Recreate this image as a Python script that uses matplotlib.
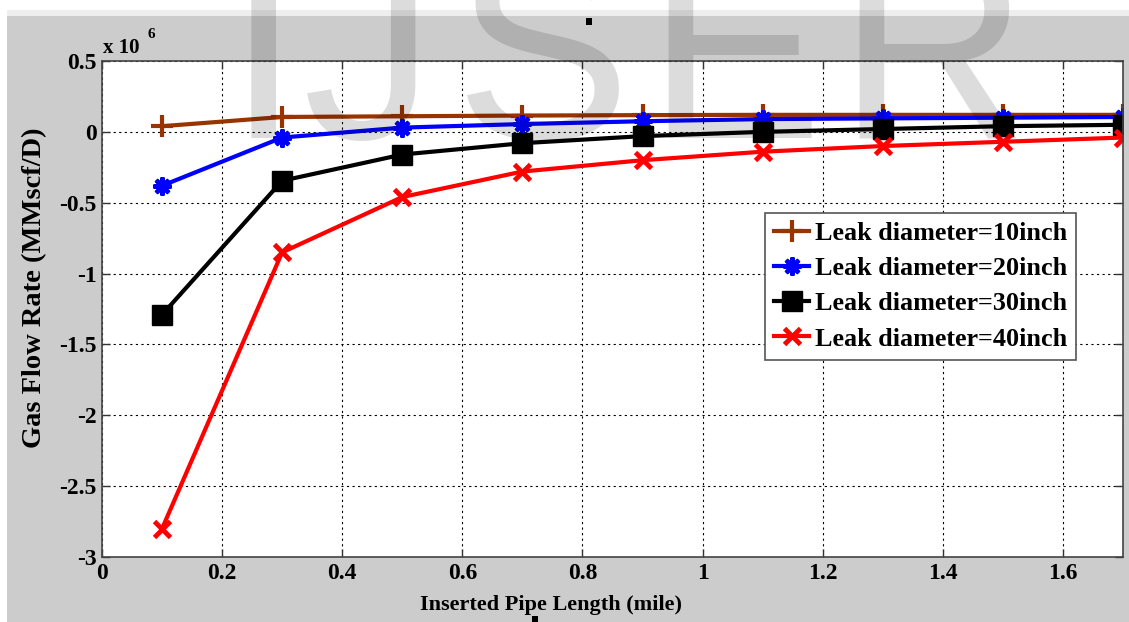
import matplotlib
matplotlib.use('Agg')
import matplotlib.pyplot as plt
from matplotlib.patches import Rectangle

# inserted pipe length (mile)
length = [0.1, 0.3, 0.5, 0.7, 0.9, 1.1, 1.3, 1.5, 1.7]

# gas flow rate, x 10^6 MMscf/D
flow_10 = [0.04, 0.105, 0.11, 0.115, 0.118, 0.12, 0.12, 0.12, 0.12]
flow_20 = [-0.38, -0.04, 0.03, 0.055, 0.075, 0.09, 0.095, 0.1, 0.105]
flow_30 = [-1.29, -0.345, -0.16, -0.08, -0.03, 0.0, 0.02, 0.04, 0.05]
flow_40 = [-2.8, -0.85, -0.46, -0.28, -0.2, -0.14, -0.10, -0.07, -0.04]

labels = ['Leak diameter=10inch', 'Leak diameter=20inch',
          'Leak diameter=30inch', 'Leak diameter=40inch']

xticks = [0, 0.2, 0.4, 0.6, 0.8, 1.0, 1.2, 1.4, 1.6]
xticklabels = ['0', '0.2', '0.4', '0.6', '0.8', '1', '1.2', '1.4', '1.6']
yticks = [-3, -2.5, -2, -1.5, -1, -0.5, 0, 0.5]
yticklabels = ['-3', '-2.5', '-2', '-1.5', '-1', '-0.5', '0', '0.5']

plt.rcParams['font.family'] = ['Liberation Serif', 'DejaVu Serif']
plt.rcParams['font.weight'] = 'bold'

W, H = 1129, 622
fig = plt.figure(figsize=(W / 100, H / 100), dpi=100, facecolor='#cccccc')

# white strip at top / left, like the screenshot border
def fig_rect(x, y, w, h, color):
    # pixel box from top-left
    fig.patches.append(Rectangle((x / W, 1 - (y + h) / H), w / W, h / H,
                                 transform=fig.transFigure, facecolor=color,
                                 edgecolor='none', zorder=0))

fig_rect(0, 0, W, 10, 'white')
fig_rect(7, 10, W, 6, '#eeeeee')
fig_rect(0, 0, 7, H, 'white')
fig_rect(586, 18, 6, 7, 'black')
fig_rect(532, 616, 6, 6, 'black')

ax = fig.add_axes([102 / W, 1 - 557 / H, (1123 - 102) / W, (557 - 61) / H])
ax.set_facecolor('white')

ax.plot(length, flow_10, color='#993300', lw=3, marker='+', ms=16, mew=3, label=labels[0])
ax.plot(length, flow_20, color='#0000ff', lw=3, marker=(8, 2, 0), ms=13, mew=3, label=labels[1])
ax.plot(length, flow_30, color='black', lw=3, marker='s', ms=14, label=labels[2])
ax.plot(length, flow_40, color='#ff0000', lw=3, marker='x', ms=11, mew=3.5, label=labels[3])

ax.set_xlim(0, 1.7)
ax.set_ylim(-3, 0.5)
ax.set_xticks(xticks)
ax.set_xticklabels(xticklabels)
ax.set_yticks(yticks)
ax.set_yticklabels(yticklabels)
ax.tick_params(direction='in', top=True, right=True, length=6, width=1,
               labelsize=17, colors='#333333', labelcolor='black', pad=4)
for lab in ax.get_xticklabels() + ax.get_yticklabels():
    lab.set_fontweight('bold')
ax.grid(True, color='black', linestyle=(0, (2, 3)), linewidth=0.8)
for sp in ax.spines.values():
    sp.set_color('#444444')
    sp.set_linewidth(1.2)

leg = ax.legend(loc='upper left', bbox_to_anchor=((765 - 102) / (1123 - 102), (557 - 213) / (557 - 61)),
                prop={'weight': 'bold', 'size': 18.8}, frameon=True, fancybox=False,
                framealpha=1, edgecolor='#555555', handlelength=1.35, handletextpad=0.2,
                labelspacing=0.45, borderpad=0.35, borderaxespad=0)
leg.get_frame().set_linewidth(1.2)

fig.text(35 / W, 1 - 288 / H, 'Gas Flow Rate (MMscf/D)', rotation=90, ha='center',
         va='center', fontsize=20.5, fontweight='bold')
fig.text(551 / W, 1 - 605 / H, 'Inserted Pipe Length (mile)', ha='center', va='center',
         fontsize=16, fontweight='bold')
fig.text(103 / W, 1 - 53 / H, 'x 10', ha='left', va='baseline', fontsize=15, fontweight='bold')
fig.text(147 / W, 1 - 38 / H, '6', ha='left', va='baseline', fontsize=11, fontweight='bold')

# IJSER watermark
for letter, xc in zip('IJSER', [263, 369, 543, 734, 933]):
    fig.text(xc / W, 1 - 138 / H, letter, ha='center', va='baseline', fontsize=190,
             family='Liberation Sans', fontweight='normal', color='black', alpha=0.137,
             zorder=10)

fig.savefig('out.png', dpi=100, facecolor=fig.get_facecolor())
